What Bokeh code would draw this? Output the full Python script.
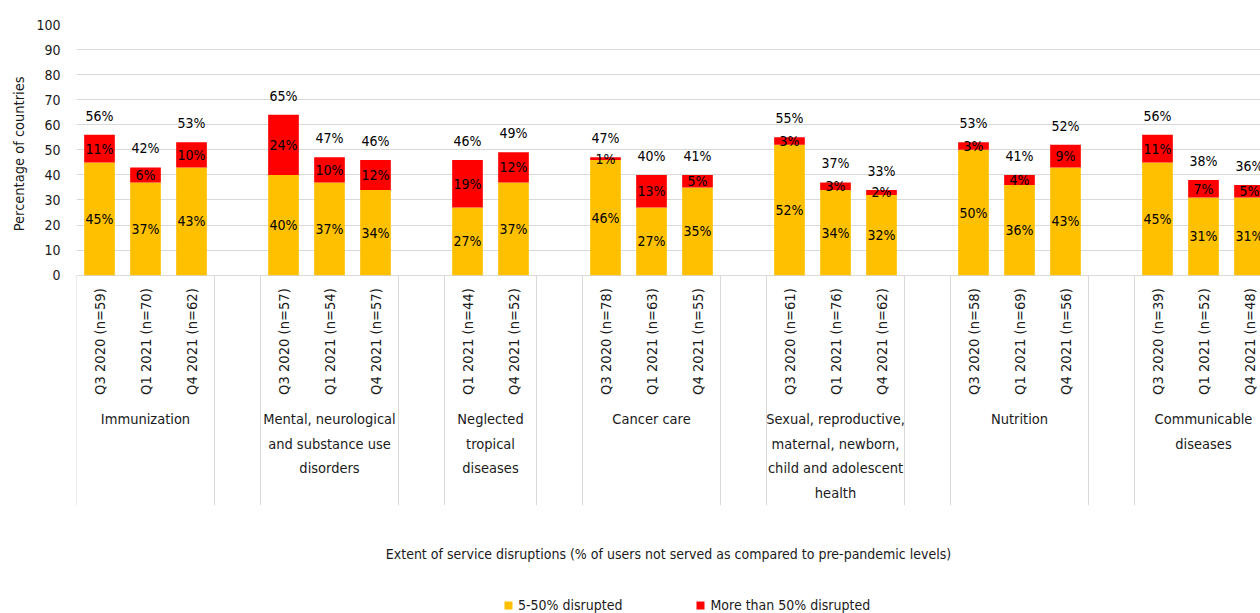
import math
from bokeh.plotting import figure
from bokeh.models import ColumnDataSource, Range1d, FixedTicker, Legend, LegendItem, Title
from bokeh.core.properties import value
from bokeh.embed import file_html
from bokeh.resources import INLINE

# ---------------- data ----------------
services = [
    "Immunization",
    "Mental, neurological\nand substance use\ndisorders",
    "Neglected\ntropical\ndiseases",
    "Cancer care",
    "Sexual, reproductive,\nmaternal, newborn,\nchild and adolescent\nhealth",
    "Nutrition",
    "Communicable\ndiseases",
]
periods = [
    ["Q3 2020 (n=59)", "Q1 2021 (n=70)", "Q4 2021 (n=62)"],
    ["Q3 2020 (n=57)", "Q1 2021 (n=54)", "Q4 2021 (n=57)"],
    ["Q1 2021 (n=44)", "Q4 2021 (n=52)"],
    ["Q3 2020 (n=78)", "Q1 2021 (n=63)", "Q4 2021 (n=55)"],
    ["Q3 2020 (n=61)", "Q1 2021 (n=76)", "Q4 2021 (n=62)"],
    ["Q3 2020 (n=58)", "Q1 2021 (n=69)", "Q4 2021 (n=56)"],
    ["Q3 2020 (n=39)", "Q1 2021 (n=52)", "Q4 2021 (n=48)"],
]
disrupted_5_50 = [[45, 37, 43], [40, 37, 34], [27, 37], [46, 27, 35], [52, 34, 32], [50, 36, 43], [45, 31, 31]]
disrupted_over_50 = [[11, 6, 10], [24, 10, 12], [19, 12], [1, 13, 5], [3, 3, 2], [3, 4, 9], [11, 7, 5]]
total_disrupted = [[56, 42, 53], [65, 47, 46], [46, 49], [47, 40, 41], [55, 37, 33], [53, 41, 52], [56, 38, 36]]
y_ticks = list(range(0, 101, 10))
series_names = ["5-50% disrupted", "More than 50% disrupted"]
x_title = "Extent of service disruptions (% of users not served as compared to pre-pandemic levels)"
y_title = "Percentage of countries"

# ---------------- style / layout ----------------
FONT = "DejaVu Sans Condensed, DejaVu Sans"
YELLOW = "#FFC000"
RED = "#FF0000"
GRID = "#D9D9D9"
TEXT = "#000000"
AXTEXT = "#1a1a1a"

W, H = 1260, 613
LEFT_BORDER, TOP_BORDER = 76, 24
SLOT_PX = 46.0
PX_PER_UNIT = 2.507
frame_w = W - LEFT_BORDER
frame_h = H - TOP_BORDER
x_end = frame_w / SLOT_PX
y_start = 100 - frame_h / PX_PER_UNIT


def px(d):
    return d / PX_PER_UNIT


# ---------------- build positions (slots) ----------------
bx, lo, hi, tot, per_lab = [], [], [], [], []
group_centers, sep_x = [], []
slot = 0
for g in range(len(services)):
    start = slot
    for k in range(len(periods[g])):
        bx.append(slot + 0.5)
        lo.append(disrupted_5_50[g][k])
        hi.append(disrupted_over_50[g][k])
        tot.append(total_disrupted[g][k])
        per_lab.append(periods[g][k])
        slot += 1
    sep_x += [start, slot]
    group_centers.append((start + slot) / 2)
    slot += 1

src = ColumnDataSource(dict(
    x=bx, low=lo, high=hi,
    low_mid=[v / 2 for v in lo],
    high_mid=[l + h / 2 for l, h in zip(lo, hi)],
    low_lab=[f"{v}%" for v in lo],
    high_lab=[f"{v}%" for v in hi],
    tot_y=[l + h + px(19) for l, h in zip(lo, hi)],
    tot_lab=[f"{v}%" for v in tot],
    per=per_lab,
    per_y=[-px(13)] * len(bx),
))

p = figure(width=W, height=H, x_range=Range1d(0, x_end), y_range=Range1d(y_start, 100),
           output_backend="svg", toolbar_location=None, x_axis_location=None,
           min_border_left=LEFT_BORDER, min_border_top=TOP_BORDER,
           min_border_right=0, min_border_bottom=0)
p.outline_line_color = None
p.background_fill_color = "white"
p.border_fill_color = "white"

# y axis
p.yaxis.ticker = FixedTicker(ticks=y_ticks)
p.yaxis.axis_line_color = None
p.yaxis.major_tick_line_color = None
p.yaxis.minor_tick_line_color = None
p.yaxis.major_tick_out = 0
p.yaxis.major_tick_in = 0
p.yaxis.minor_tick_out = 0
p.yaxis.major_label_standoff = 16
p.yaxis.major_label_text_font = FONT
p.yaxis.major_label_text_font_size = "14px"
p.yaxis.major_label_text_color = AXTEXT
p.ygrid.ticker = FixedTicker(ticks=y_ticks)
p.ygrid.grid_line_color = GRID
p.xgrid.grid_line_color = None

p.add_layout(Title(text=y_title, align="right", offset=52, text_font=FONT,
                   text_font_size="14.5px", text_font_style="normal",
                   text_color=AXTEXT, standoff=14), "left")

# separators of the category axis
sep_src = ColumnDataSource(dict(x=sep_x, y0=[0] * len(sep_x), y1=[-px(230)] * len(sep_x)))
p.segment(x0="x", y0="y0", x1="x", y1="y1", source=sep_src, line_color=GRID, line_width=1)

# bars
rs = p.vbar_stack(["low", "high"], x="x", width=2 / 3, color=[YELLOW, RED],
                  line_color=None, source=src)

common = dict(source=src, text_font=value(FONT), text_color=TEXT,
              text_align="center", text_baseline="middle")
p.text(x="x", y="low_mid", text="low_lab", text_font_size="14px", **common)
p.text(x="x", y="high_mid", text="high_lab", text_font_size="14px", **common)
p.text(x="x", y="tot_y", text="tot_lab", text_font_size="14px", **common)

# rotated period labels
p.text(x="x", y="per_y", text="per", source=src, text_font=value(FONT), text_font_size="14.6px",
       text_color=AXTEXT, angle=math.pi / 2, text_align="right", text_baseline="middle")

# service (group) labels, one row per line
gx, gy, gt = [], [], []
for c, name in zip(group_centers, services):
    for i, line in enumerate(name.split("\n")):
        gx.append(c)
        gy.append(-px(143.6 + i * 24.8))
        gt.append(line)
p.text(x=gx, y=gy, text=gt, text_font=value(FONT), text_font_size="14.5px", text_color=AXTEXT,
       text_align="center", text_baseline="middle")

# x-axis title
p.text(x=[(668 - 76) / SLOT_PX], y=[-px(278.8)], text=[x_title], text_font=value(FONT),
       text_font_size="14px", text_color=AXTEXT, text_align="center", text_baseline="middle")

legend = Legend(items=[LegendItem(label=series_names[0], renderers=[rs[0]]),
                       LegendItem(label=series_names[1], renderers=[rs[1]])],
                orientation="horizontal", location=(427, 0), padding=0, margin=0,
                spacing=73, glyph_width=10, glyph_height=10, label_standoff=5,
                border_line_color=None, background_fill_alpha=0,
                label_text_font=FONT, label_text_font_size="14px", label_text_color=AXTEXT)
p.add_layout(legend)

open("out.html", "w").write(file_html(p, INLINE))
